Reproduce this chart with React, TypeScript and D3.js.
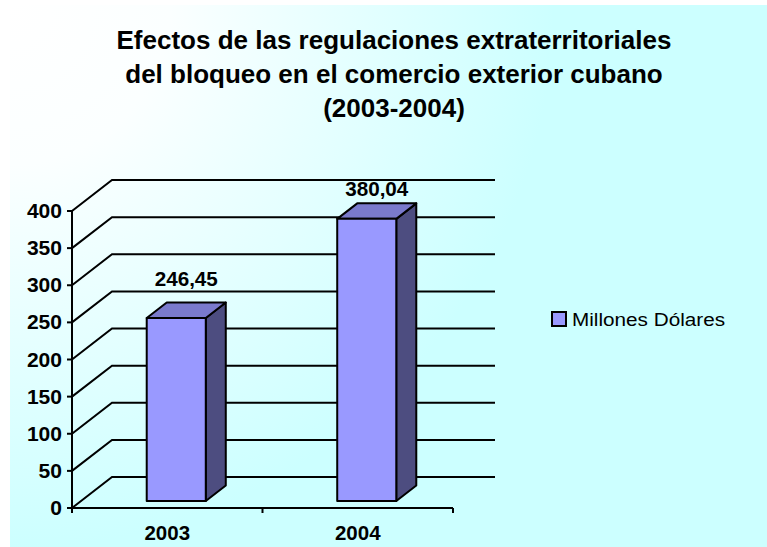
import React from 'react';
import * as d3 from 'd3';

// chart data
const categories = ['2003', '2004'];
const values = [246.45, 380.04];
const valueLabels = ['246,45', '380,04'];
const yTicks = [0, 50, 100, 150, 200, 250, 300, 350, 400];
const seriesName = 'Millones Dólares';
const titleLines = [
  'Efectos de las regulaciones extraterritoriales',
  'del bloqueo en el comercio exterior cubano',
  '(2003-2004)',
];

const W = 767;
const H = 547;
const FONT = '"Liberation Sans", Arial, sans-serif';

// 3d box geometry
const left = 72;
const right = 453;
const floorY = 508;
const depthX = 40;
const depthY = 31;
const backRight = 495;

export default function App() {
  const x = d3.scaleBand().domain(categories).range([left, right]);
  const y = d3.scaleLinear().domain([0, 400]).range([floorY, 211]);

  const barW = x.step() * 0.31;
  const z0 = 0.225;
  const z1 = 0.725;
  const ox = depthX * z0;
  const oy = depthY * z0;
  const bdx = depthX * (z1 - z0);
  const bdy = depthY * (z1 - z0);

  return (
    <svg
      width={W}
      height={H}
      style={{ position: 'absolute', left: 0, top: 0, fontFamily: FONT }}
    >
      <defs>
        <radialGradient id="bg" gradientUnits="userSpaceOnUse" cx={10} cy={5} r={640}>
          <stop offset="0" stopColor="#ffffff" />
          <stop offset="0.25" stopColor="#fbffff" />
          <stop offset="0.85" stopColor="#ccffff" />
          <stop offset="1" stopColor="#ccffff" />
        </radialGradient>
      </defs>
      <rect width={W} height={H} fill="#fff" />
      <rect x={10} y={5} width={W - 10} height={H - 5} fill="url(#bg)" />

      {/* title */}
      {titleLines.map((t, i) => (
        <text
          key={t}
          x={394}
          y={49 + i * 34}
          textAnchor="middle"
          fontSize={26}
          fontWeight="bold"
        >
          {t}
        </text>
      ))}

      {/* gridlines with side wall */}
      {yTicks.map((v) => (
        <path
          key={v}
          d={`M${left},${y(v)}L${left + depthX},${y(v) - depthY}L${backRight},${y(v) - depthY}`}
          fill="none"
          stroke="#000"
          strokeWidth={2}
        />
      ))}

      {/* axes */}
      <line x1={left} x2={left} y1={y(400)} y2={floorY + 5} stroke="#000" strokeWidth={2} />
      <line x1={left} x2={right} y1={floorY} y2={floorY} stroke="#000" strokeWidth={2} />
      {yTicks.map((v) => (
        <g key={v}>
          <line x1={left - 5} x2={left} y1={y(v)} y2={y(v)} stroke="#000" strokeWidth={2} />
          <text
            transform={`translate(62,${y(v) + 7}) scale(1.08,1)`}
            textAnchor="end"
            fontSize={19.5}
            fontWeight="bold"
          >
            {v}
          </text>
        </g>
      ))}
      {[left, ...categories.map((c) => (x(c) as number) + x.step())].map((t, i) => (
        <line key={i} x1={t} x2={t} y1={floorY} y2={floorY + 5} stroke="#000" strokeWidth={2} />
      ))}
      {categories.map((c) => (
        <text
          key={c}
          x={(x(c) as number) + x.step() / 2}
          y={540}
          textAnchor="middle"
          fontSize={20.5}
          fontWeight="bold"
        >
          {c}
        </text>
      ))}

      {/* bars */}
      {categories.map((c, i) => {
        const cx = (x(c) as number) + x.step() / 2;
        const x0 = cx - barW / 2 + ox;
        const x1 = cx + barW / 2 + ox;
        const yt = y(values[i]) - oy;
        const yb = y(0) - oy;
        return (
          <g key={c} stroke="#000" strokeWidth={2} strokeLinejoin="round">
            <polygon
              points={`${x1},${yt} ${x1 + bdx},${yt - bdy} ${x1 + bdx},${yb - bdy} ${x1},${yb}`}
              fill="#4d4d80"
            />
            <polygon
              points={`${x0},${yt} ${x0 + bdx},${yt - bdy} ${x1 + bdx},${yt - bdy} ${x1},${yt}`}
              fill="#7a7acc"
            />
            <rect x={x0} y={yt} width={x1 - x0} height={yb - yt} fill="#9999ff" />
            <text
              transform={`translate(${(x0 + x1) / 2 + bdx / 2},${Math.max(yt - 32, y(400) - 15)}) scale(1.06,1)`}
              textAnchor="middle"
              fontSize={19.5}
              fontWeight="bold"
              stroke="none"
            >
              {valueLabels[i]}
            </text>
          </g>
        );
      })}

      {/* legend */}
      <rect x={552} y={312} width={14} height={14} fill="#9999ff" stroke="#000" strokeWidth={2} />
      <text transform="translate(572,326) scale(1.12,1)" fontSize={18.5}>
        {seriesName}
      </text>
    </svg>
  );
}
